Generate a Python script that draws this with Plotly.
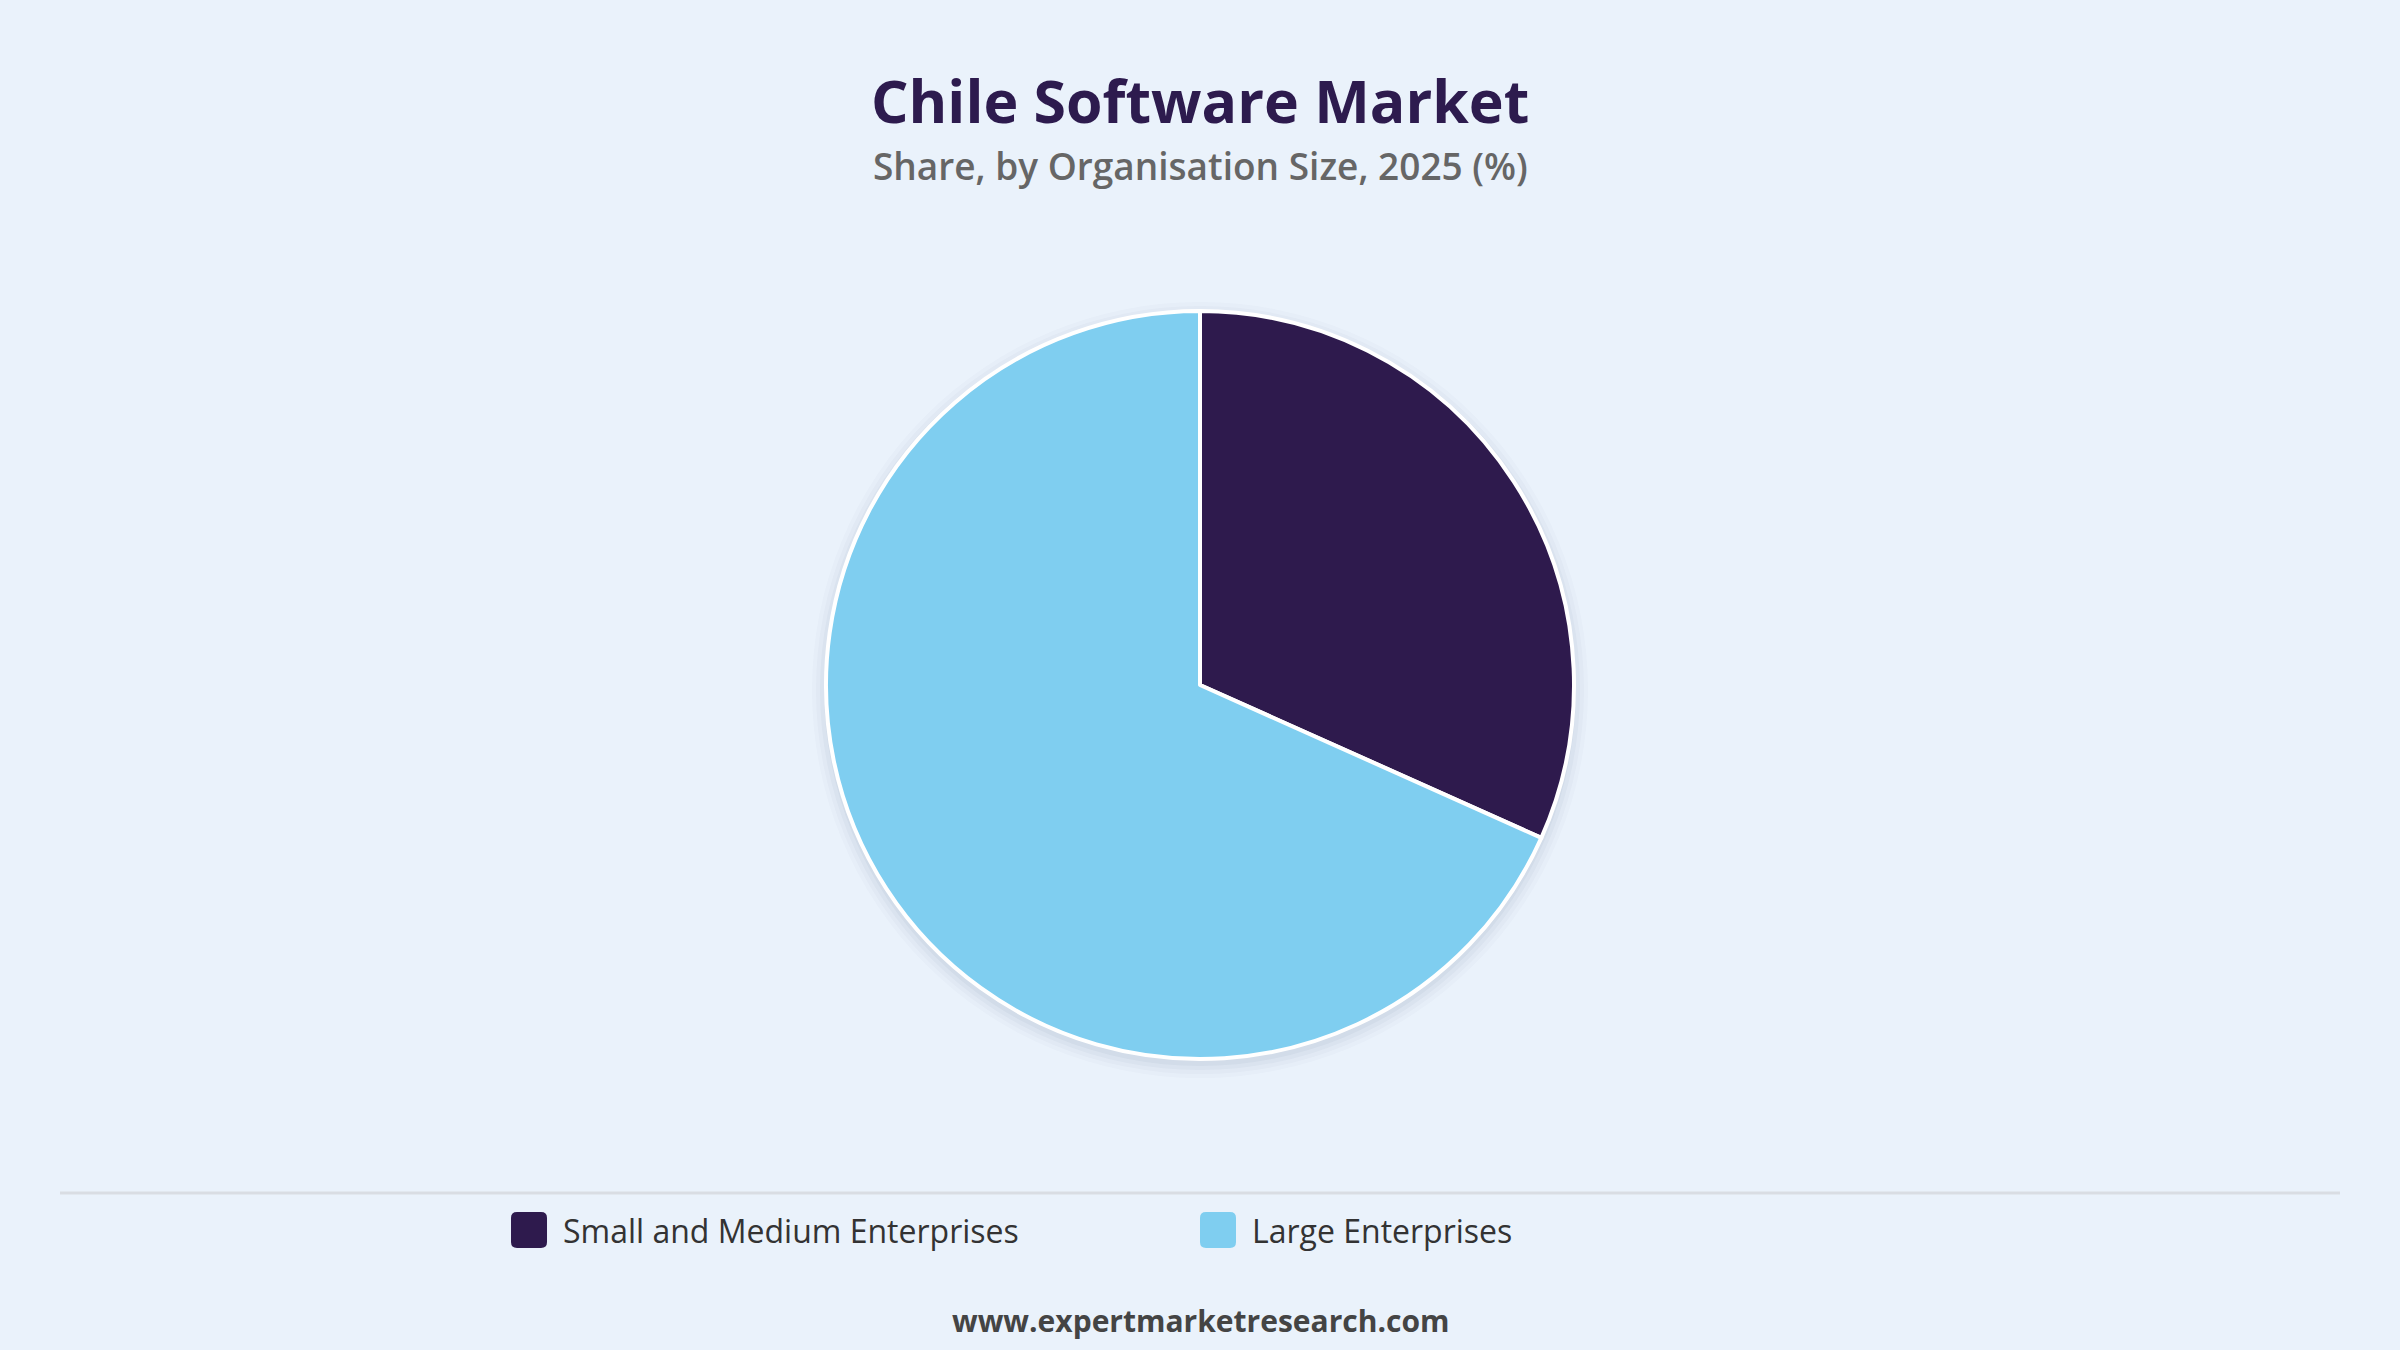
import plotly.graph_objects as go

# data
segments = ["Small and Medium Enterprises", "Large Enterprises"]
shares = [31.7, 68.3]
colors = ["#2e1a4d", "#7fcef0"]

title = "Chile Software Market"
subtitle = "Share, by Organisation Size, 2025 (%)"
source = "www.expertmarketresearch.com"

W, H = 2400, 1350
bg = "#eaf2fb"


def py(px_from_top):
    # pixel row (from top) -> paper y
    return (H - px_from_top) / H


def rounded_box(x0, y0, size, r):
    # rounded square path in paper coords, x0/y0 = top-left pixel
    def P(x, y):
        return f"{x / W:.5f},{py(y):.5f}"
    x1, y1 = x0 + size, y0 + size
    return (f"M {P(x0 + r, y0)} L {P(x1 - r, y0)} Q {P(x1, y0)} {P(x1, y0 + r)} "
            f"L {P(x1, y1 - r)} Q {P(x1, y1)} {P(x1 - r, y1)} "
            f"L {P(x0 + r, y1)} Q {P(x0, y1)} {P(x0, y1 - r)} "
            f"L {P(x0, y0 + r)} Q {P(x0, y0)} {P(x0 + r, y0)} Z")


fig = go.Figure()
fig.add_trace(go.Pie(
    labels=segments,
    values=shares,
    sort=False,
    direction="clockwise",
    rotation=0,
    textinfo="none",
    hoverinfo="label+percent",
    showlegend=False,
    marker=dict(colors=colors, line=dict(color="white", width=4)),
    domain=dict(x=[0, 1], y=[py(685 + 374), py(685 - 374)]),
))

# soft shadow behind the pie
shapes = []
for i, a in enumerate([0.035, 0.03, 0.025, 0.02]):
    r = 376 + i * 4
    shapes.append(dict(
        type="circle", layer="below",
        xref="paper", yref="paper",
        xsizemode="pixel", ysizemode="pixel",
        xanchor=0.5, yanchor=py(690),
        x0=-r, x1=r, y0=-r, y1=r,
        fillcolor=f"rgba(40,60,90,{a})", line=dict(width=0),
    ))

# separator above the legend
shapes.append(dict(
    type="line", xref="paper", yref="paper",
    x0=60 / W, x1=2340 / W, y0=py(1193), y1=py(1193),
    line=dict(color="#d9dde3", width=3),
))

annotations = [
    dict(text=f"<b>{title}</b>", x=0.5, y=py(100), xref="paper", yref="paper",
         xanchor="center", yanchor="middle", showarrow=False,
         font=dict(size=59, color="#2d1b4e", family="Open Sans", weight=800)),
    dict(text=subtitle, x=0.5, y=py(166), xref="paper", yref="paper",
         xanchor="center", yanchor="middle", showarrow=False,
         font=dict(size=37, color="#666666", family="Open Sans", weight=600)),
    dict(text=f"<b>{source}</b>", x=0.5, y=py(1320), xref="paper", yref="paper",
         xanchor="center", yanchor="middle", showarrow=False,
         font=dict(size=30, color="#444444", family="Open Sans")),
]

# legend: rounded swatches + labels
legend_x = [511, 1200]
sw = 36
for name, col, lx in zip(segments, colors, legend_x):
    shapes.append(dict(
        type="path", xref="paper", yref="paper",
        path=rounded_box(lx, 1230 - sw / 2, sw, 6),
        fillcolor=col, line=dict(width=0),
    ))
    annotations.append(dict(
        text=name, x=(lx + sw + 14) / W, y=py(1230), xref="paper", yref="paper",
        xanchor="left", yanchor="middle", showarrow=False,
        font=dict(size=32, color="#333333", family="Open Sans"),
    ))

fig.update_layout(
    width=W, height=H,
    paper_bgcolor=bg, plot_bgcolor=bg,
    margin=dict(l=0, r=0, t=0, b=0),
    font=dict(family="Open Sans", color="#333333"),
    showlegend=False,
    shapes=shapes,
    annotations=annotations,
)

fig.write_html(
    "out.html",
    config={"displayModeBar": False},
    post_script="document.body.style.margin='0';document.body.style.overflow='hidden';",
)
